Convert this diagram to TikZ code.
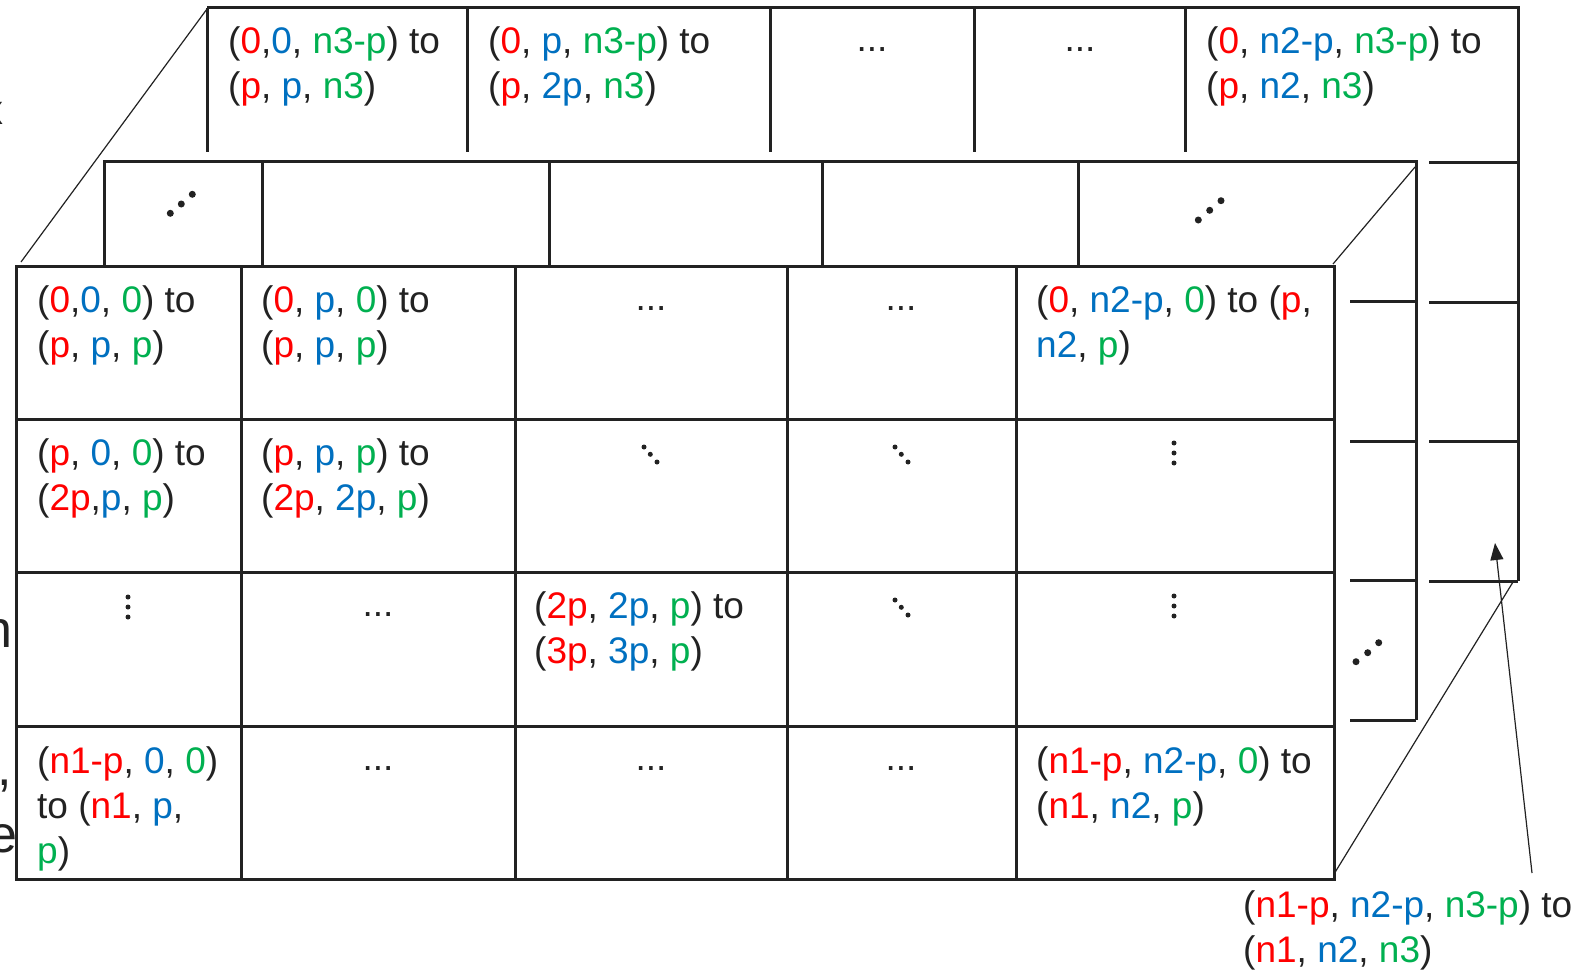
\documentclass[tikz,border=0pt]{standalone}
\usepackage{fontspec}
\setmainfont{Liberation Sans}
\usetikzlibrary{arrows.meta}
\definecolor{cR}{HTML}{FF0000}
\definecolor{cB}{HTML}{0070C0}
\definecolor{cG}{HTML}{00B050}
\definecolor{ink}{HTML}{222222}
\newcommand{\xR}[1]{\textcolor{cR}{#1}}
\newcommand{\xB}[1]{\textcolor{cB}{#1}}
\newcommand{\xG}[1]{\textcolor{cG}{#1}}
\newcommand{\fsz}{\fontsize{37}{45}\selectfont}
\tikzset{
  box/.style={line width=3pt, draw=ink},
  slim/.style={line width=1.2pt, draw=ink},
  txt/.style={anchor=base west, inner sep=0pt, align=left, font=\fsz, text=ink},
  ell/.style={anchor=base, inner sep=0pt, font=\fsz, text=ink},
  bdot/.style={circle, fill=ink, inner sep=0pt, minimum size=5pt},
  Bdot/.style={circle, fill=ink, inner sep=0pt, minimum size=7pt},
  part/.style={anchor=base east, inner sep=0pt, text=ink}
}
\begin{document}
\begin{tikzpicture}[x=1pt,y=-1pt]
\useasboundingbox (0,0) rectangle (1582,971);
\fill[white] (0,0) rectangle (1582,971);

% cut-off letters at the left edge
\begin{scope}
\clip (0,0) rectangle (16,971);
\node[part, font=\fontsize{42}{48}\selectfont] (px) at (4,125) {x};
\node[part, font=\fontsize{52}{60}\selectfont] (pn) at (13,647) {n};
\node[part, font=\fontsize{52}{60}\selectfont] (pc) at (12,785) {,};
\node[part, font=\fontsize{52}{60}\selectfont] (pe) at (18,852) {e};
\end{scope}

% ---------- back layer ----------
\draw[box] (207,8) -- (1518,8) -- (1518,581);
\foreach \x in {207,467,770,974,1185} \draw[box] (\x,8) -- (\x,152);
\foreach \y in {162,302,441,581} \draw[box] (1429,\y) -- (1518,\y);

% ---------- middle layer ----------
\draw[box] (104,266) -- (104,161) -- (1416,161) -- (1416,720);
\foreach \x in {262,549,822,1078} \draw[box] (\x,161) -- (\x,266);
\foreach \y in {301,441,580,720} \draw[box] (1350,\y) -- (1416,\y);

% ---------- front layer ----------
\draw[box] (16,266) rectangle (1334,879);
\foreach \y in {419,572,726} \draw[box] (16,\y) -- (1334,\y);
\foreach \x in {241,515,787,1016} \draw[box] (\x,266) -- (\x,879);

% ---------- perspective edges ----------
\coordinate (ftl) at (21,262);
\coordinate (btl) at (207,9);
\coordinate (ftr) at (1333,264);
\coordinate (mtr) at (1415,167);
\coordinate (fbr) at (1334,874);
\coordinate (bbr) at (1513,582);
\draw[slim] (ftl) -- (btl);
\draw[slim] (ftr) -- (mtr);
\draw[slim] (fbr) -- (bbr);

% ---------- back layer texts (anchor = baseline of last line) ----------
\node[txt] (b1) at (228,99) {(\xR{0},\xB{0}, \xG{n3-p}) to\\(\xR{p}, \xB{p}, \xG{n3})};
\node[txt] (b2) at (488,99) {(\xR{0}, \xB{p}, \xG{n3-p}) to\\(\xR{p}, \xB{2p}, \xG{n3})};
\node[ell] (b3) at (872,52) {...};
\node[ell] (b4) at (1080,52) {...};
\node[txt] (b5) at (1206,99) {(\xR{0}, \xB{n2-p}, \xG{n3-p}) to\\(\xR{p}, \xB{n2}, \xG{n3})};

% ---------- middle layer dots ----------
\node[Bdot] (m1a) at (170.3,213.3) {};
\node[Bdot] (m1b) at (181.3,204) {};
\node[Bdot] (m1c) at (192.3,194.3) {};
\node[Bdot] (m5a) at (1198.3,220) {};
\node[Bdot] (m5b) at (1209.7,210.3) {};
\node[Bdot] (m5c) at (1221,200.7) {};
\node[Bdot] (s1a) at (1356,661.7) {};
\node[Bdot] (s1b) at (1367.7,652.7) {};
\node[Bdot] (s1c) at (1378.7,642.7) {};

% ---------- front layer texts ----------
% row 1
\node[txt] (f11) at (37,357) {(\xR{0},\xB{0}, \xG{0}) to\\(\xR{p}, \xB{p}, \xG{p})};
\node[txt] (f12) at (261,357) {(\xR{0}, \xB{p}, \xG{0}) to\\(\xR{p}, \xB{p}, \xG{p})};
\node[ell] (f13) at (651,310) {...};
\node[ell] (f14) at (901,310) {...};
\node[txt] (f15) at (1036,357) {(\xR{0}, \xB{n2-p}, \xG{0}) to (\xR{p},\\\xB{n2}, \xG{p})};
% row 2
\node[txt] (f21) at (37,510) {(\xR{p}, \xB{0}, \xG{0}) to\\(\xR{2p},\xB{p}, \xG{p})};
\node[txt] (f22) at (261,510) {(\xR{p}, \xB{p}, \xG{p}) to\\(\xR{2p}, \xB{2p}, \xG{p})};
\node[bdot] (f23a) at (644,447) {};
\node[bdot] (f23b) at (650.3,454.3) {};
\node[bdot] (f23c) at (657,462) {};
\node[bdot] (f24a) at (895,447) {};
\node[bdot] (f24b) at (901.3,454.3) {};
\node[bdot] (f24c) at (908,462) {};
\node[bdot] (f25a) at (1174,443) {};
\node[bdot] (f25b) at (1174,453) {};
\node[bdot] (f25c) at (1174,463) {};
% row 3
\node[bdot] (f31a) at (128,597) {};
\node[bdot] (f31b) at (128,607) {};
\node[bdot] (f31c) at (128,617) {};
\node[ell] (f32) at (378,616) {...};
\node[txt] (f33) at (534,663) {(\xR{2p}, \xB{2p}, \xG{p}) to\\(\xR{3p}, \xB{3p}, \xG{p})};
\node[bdot] (f34a) at (895,600) {};
\node[bdot] (f34b) at (901.3,607.3) {};
\node[bdot] (f34c) at (908,615) {};
\node[bdot] (f35a) at (1174,596) {};
\node[bdot] (f35b) at (1174,606) {};
\node[bdot] (f35c) at (1174,616) {};
% row 4
\node[txt] (f41) at (37,863) {(\xR{n1-p}, \xB{0}, \xG{0})\\to (\xR{n1}, \xB{p},\\\xG{p})};
\node[ell] (f42) at (378,770) {...};
\node[ell] (f43) at (651,770) {...};
\node[ell] (f44) at (901,770) {...};
\node[txt] (f45) at (1036,818) {(\xR{n1-p}, \xB{n2-p}, \xG{0}) to\\(\xR{n1}, \xB{n2}, \xG{p})};

% ---------- corner label and arrow ----------
\node[txt] (lab) at (1243,962) {(\xR{n1-p}, \xB{n2-p}, \xG{n3-p}) to\\(\xR{n1}, \xB{n2}, \xG{n3})};
\coordinate (tail) at (1532,873);
\coordinate (tip) at (1495,543);
\draw[slim, -{Triangle[width=13pt,length=17pt]}] (tail) -- (tip);
\end{tikzpicture}
\end{document}
